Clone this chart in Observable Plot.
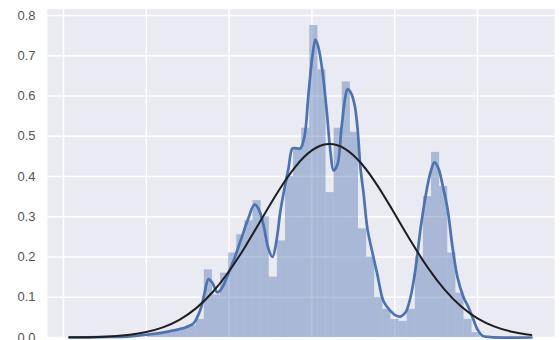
<!DOCTYPE html>
<html>
<head>
<meta charset="utf-8">
<script src="https://cdn.jsdelivr.net/npm/d3@7"></script>
<script src="https://cdn.jsdelivr.net/npm/@observablehq/plot@0.6"></script>
<style>
  html, body { margin: 0; padding: 0; background: #ffffff; }
  #chart { width: 560px; height: 340px; }
</style>
</head>
<body>
<div id="chart"></div>
<script>
// Histogram (density-normalised), first bin edge and bin width
const binFirstEdge = 1.015;
const binWidth = 0.098;
const binHeights = [
  0.006, 0.010, 0.012, 0.020, 0.025, 0.030, 0.045, 0.168, 0.106, 0.160,
  0.210, 0.255, 0.290, 0.340, 0.300, 0.150, 0.240, 0.400, 0.470, 0.520,
  0.775, 0.665, 0.360, 0.520, 0.635, 0.510, 0.270, 0.200, 0.100, 0.070,
  0.045, 0.040, 0.070, 0.200, 0.350, 0.460, 0.375, 0.210, 0.110, 0.045,
  0.012
];

// Kernel density estimate
const kdeX = [
  0.072, 0.447, 0.809, 1.051, 1.292, 1.473, 1.570, 1.655, 1.703, 1.751,
  1.800, 1.860, 1.920, 1.993, 2.053, 2.138, 2.222, 2.307, 2.355, 2.415,
  2.476, 2.524, 2.572, 2.621, 2.669, 2.717, 2.766, 2.814, 2.862, 2.911,
  2.959, 3.007, 3.043, 3.080, 3.128, 3.176, 3.225, 3.261, 3.309, 3.357,
  3.406, 3.430, 3.466, 3.514, 3.551, 3.587, 3.623, 3.671, 3.732, 3.792,
  3.865, 3.949, 4.010, 4.070, 4.130, 4.191, 4.251, 4.312, 4.372, 4.432,
  4.481, 4.529, 4.577, 4.638, 4.698, 4.758, 4.831, 4.891, 4.952, 5.000,
  5.060, 5.157, 5.652
];
const kdeY = [
  0.000, 0.001, 0.003, 0.008, 0.016, 0.025, 0.035, 0.070, 0.110, 0.145,
  0.135, 0.112, 0.125, 0.160, 0.190, 0.240, 0.290, 0.330, 0.320, 0.280,
  0.220, 0.200, 0.240, 0.316, 0.370, 0.420, 0.470, 0.470, 0.470, 0.500,
  0.605, 0.700, 0.740, 0.720, 0.660, 0.570, 0.460, 0.415, 0.430, 0.520,
  0.600, 0.617, 0.610, 0.580, 0.520, 0.420, 0.360, 0.270, 0.210, 0.155,
  0.090, 0.066, 0.055, 0.052, 0.062, 0.100, 0.170, 0.270, 0.350, 0.410,
  0.435, 0.420, 0.380, 0.320, 0.225, 0.150, 0.100, 0.075, 0.044, 0.020,
  0.004, 0.001, 0.000
];

// Fitted normal density
const fitX = [
  0.07, 0.2, 0.4, 0.6, 0.8, 1.0, 1.2, 1.4, 1.6, 1.8,
  2.0, 2.2, 2.4, 2.6, 2.8, 3.0, 3.2, 3.4, 3.6, 3.8,
  4.0, 4.2, 4.4, 4.6, 4.8, 5.0, 5.2, 5.4, 5.6, 5.65
];
const fitY = [
  0.0004, 0.0007, 0.0015, 0.0034, 0.0070, 0.0137, 0.0252, 0.0440, 0.0724, 0.1124,
  0.1647, 0.2276, 0.2969, 0.3653, 0.4242, 0.4648, 0.4806, 0.4689, 0.4317, 0.3749,
  0.3074, 0.2378, 0.1735, 0.1195, 0.0776, 0.0476, 0.0275, 0.0150, 0.0077, 0.0065
];

const xGrid = [0, 1, 2, 3, 4, 5];
const yTicks = [0, 0.1, 0.2, 0.3, 0.4, 0.5, 0.6, 0.7, 0.8];

const bins = binHeights.map((h, i) => ({
  x1: binFirstEdge + i * binWidth,
  x2: binFirstEdge + (i + 1) * binWidth,
  h
}));
const kde = kdeX.map((x, i) => ({x, y: kdeY[i]}));
const fit = fitX.map((x, i) => ({x, y: fitY[i]}));

const chart = Plot.plot({
  width: 560,
  height: 340,
  marginLeft: 47,
  marginRight: 6,
  marginTop: 8.6,
  marginBottom: 3,
  style: {
    background: "#ffffff",
    overflow: "visible"
  },
  x: {domain: [-0.193, 5.93], axis: null},
  y: {domain: [0, 0.816], axis: null},
  marks: [
    Plot.frame({fill: "#eaeaf2", stroke: "none"}),
    Plot.gridX(xGrid, {stroke: "#ffffff", strokeOpacity: 1, strokeWidth: 1.5}),
    Plot.gridY(yTicks, {stroke: "#ffffff", strokeOpacity: 1, strokeWidth: 1.5}),
    Plot.rectY(bins, {x1: "x1", x2: "x2", y: "h", fill: "#4c72b0", fillOpacity: 0.42}),
    Plot.line(kde, {x: "x", y: "y", stroke: "#4c72b0", strokeWidth: 2.7, curve: "catmull-rom"}),
    Plot.line(fit, {x: "x", y: "y", stroke: "#1e1e1e", strokeWidth: 2, curve: "natural"}),
    Plot.axisY(yTicks, {
      tickSize: 0,
      tickPadding: 12,
      tickFormat: d3.format(".1f"),
      fill: "#555555",
      fontSize: 13,
      fontFamily: "'Liberation Sans', Arial, sans-serif"
    })
  ]
});

// Tick labels at the seaborn-like size
d3.select(chart).selectAll("text")
  .attr("font-size", 13)
  .style("font-size", "13px")
  .style("font-family", "'Liberation Sans', Arial, sans-serif");

document.getElementById("chart").appendChild(chart);
</script>
</body>
</html>
